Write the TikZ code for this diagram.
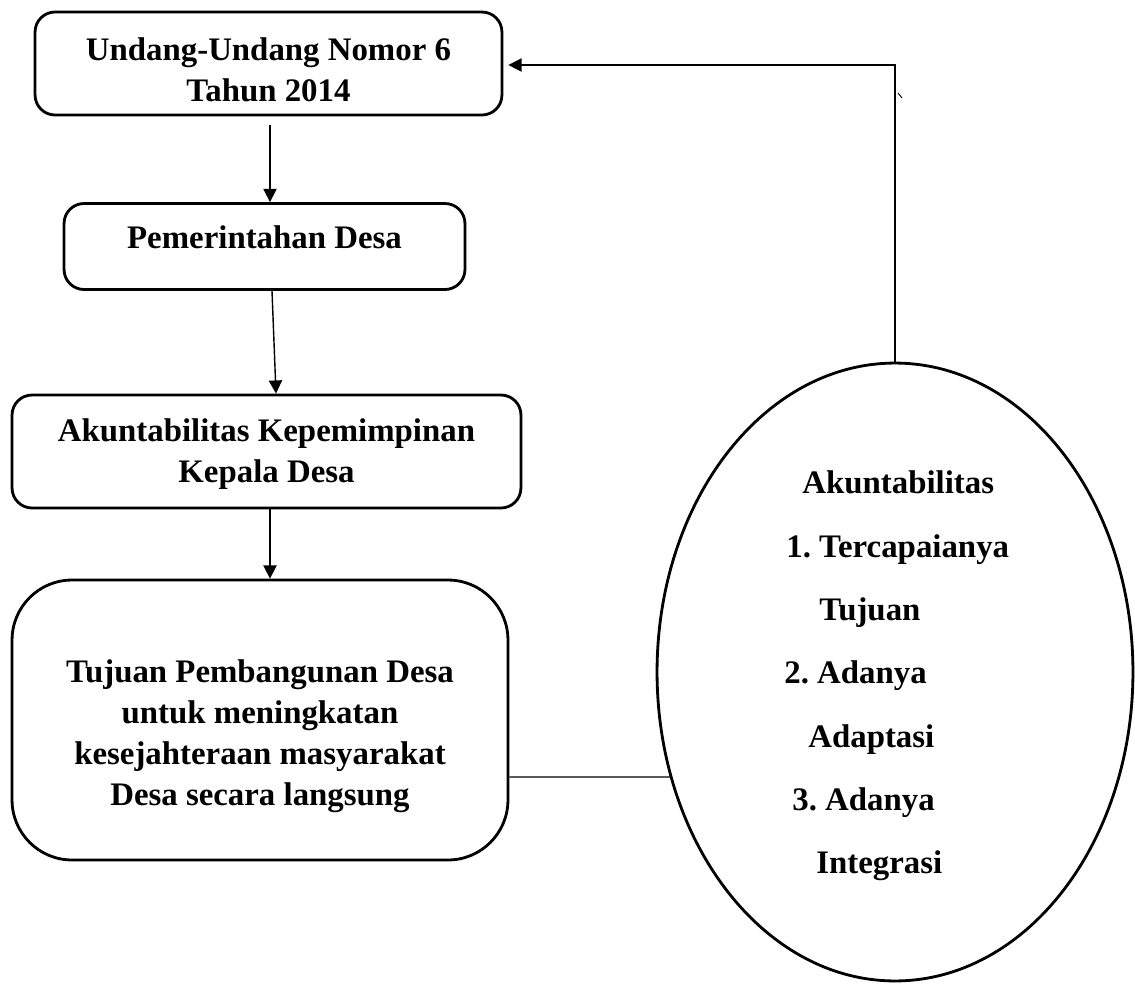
\documentclass[tikz,border=0pt]{standalone}
\usepackage{fontspec}
\setmainfont{Liberation Serif}
\usetikzlibrary{calc, shapes.geometric, arrows.meta}

\tikzset{
	box/.style = {draw, line width = 1.6pt, rounded corners = 0.4cm, inner sep = 0pt},
	bigbox/.style = {box, rounded corners = 1.2cm},
	txt/.style = {align = center, inner sep = 0pt, font = \bfseries\fontsize{18.7}{23.3}\selectfont},
	arr/.style = {line width = 0.8pt, -{Triangle[length = 7.5pt, width = 7.5pt]}},
	link/.style = {line width = 0.8pt}
}

\begin{document}
\frenchspacing
\begin{tikzpicture}[x = 0.02cm, y = -0.02cm]
		\useasboundingbox (0,0) rectangle (1135,984);
		
		%coordinates
		\coordinate (axis) at (270,0);
		
		%left column
		\node [box, minimum width = 9.34cm, minimum height = 2.06cm] (undang) at (268.5,63.5) {};
		\node [txt] (undang text) at ($ (undang.center) + (0,6) $) {Undang-Undang Nomor 6\\Tahun 2014};
		
		\node [box, minimum width = 8.02cm, minimum height = 1.72cm] (pemdes) at (264.5,246.5) {};
		\node [txt] (pemdes text) at ($ (pemdes.center) + (0,-9) $) {Pemerintahan Desa};
		
		\node [box, minimum width = 10.18cm, minimum height = 2.26cm] (akunt) at (266.5,451.5) {};
		\node [txt] (akunt text) at ($ (akunt.center) + (0,3) $) {Akuntabilitas Kepemimpinan\\Kepala Desa};
		
		\node [bigbox, minimum width = 9.92cm, minimum height = 5.6cm] (tujuan) at (260,720) {};
		\node [txt] (tujuan text) at ($ (tujuan.center) + (0,16) $) {Tujuan Pembangunan Desa\\untuk meningkatan\\kesejahteraan masyarakat\\Desa secara langsung};
		
		%ellipse
		\node [draw, ellipse, line width = 1.6pt, inner sep = 0pt, minimum width = 9.52cm, minimum height = 12.36cm] (akt) at (895,672) {};
		\foreach \t/\x/\y [count = \i] in {Akuntabilitas/802/493, 1. Tercapaianya/786/557, Tujuan/819/620, 2. Adanya/784/683, Adaptasi/808/747, 3. Adanya/792/810, Integrasi/816/873}
			\node [txt, anchor = base west] (akt item \i) at (\x,\y) {\t};
		
		%connectors
		\draw [arr] ($ (undang.south -| axis) + (0,9) $) -- (pemdes.north -| axis);
		\draw [arr] ($ (pemdes.south) + (7.5,0) $) -- ($ (akunt.north) + (9.5,0) $);
		\draw [arr] (akunt.south -| axis) -- (tujuan.north -| axis);
		
		\draw [link] ($ (tujuan.east) + (0,57) $) -- (akt.205);
		\draw [arr] (akt.north) |- ($ (undang.east) + (5,1.5) $);
		\draw [line width = 0.5pt] (898,93) -- (902,98);
	\end{tikzpicture}
\end{document}
